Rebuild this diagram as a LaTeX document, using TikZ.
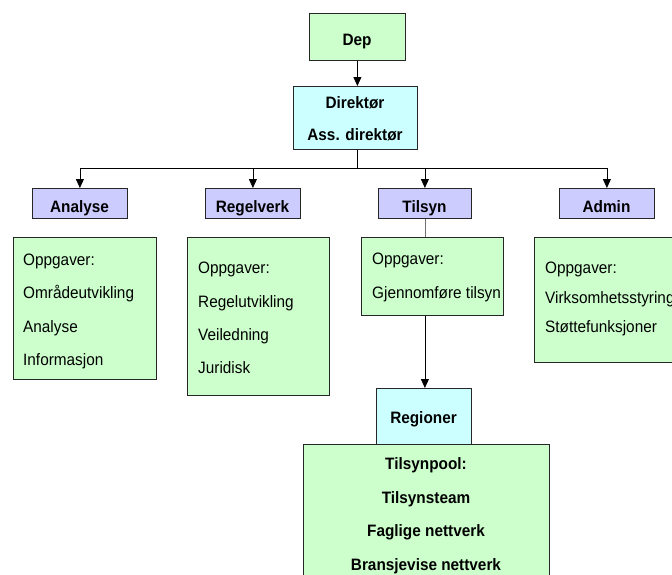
\documentclass[tikz,border=0pt]{standalone}
\usepackage{fontspec}
\setmainfont[FakeStretch=0.93]{Liberation Sans}
\usetikzlibrary{arrows.meta}
\definecolor{paleGreen}{HTML}{CCFFCC}
\definecolor{paleCyan}{HTML}{CCFFFF}
\definecolor{paleViolet}{HTML}{CCCCFF}
\begin{document}
\begin{tikzpicture}[x=1pt,y=-1pt,
  box/.style={draw=black!85, line width=0.8pt, rectangle, inner sep=0pt, anchor=north west},
  taskbox/.style={box, fill=paleGreen},
  leadbox/.style={box, fill=paleCyan},
  unitbox/.style={box, fill=paleViolet},
  plain/.style={inner sep=0pt, anchor=base west, font=\fontsize{16.5}{20}\selectfont},
  title/.style={inner sep=0pt, anchor=base, font=\bfseries\fontsize{16.5}{20}\selectfont},
  wire/.style={line width=0.8pt},
  link/.style={wire, -{Triangle[width=8pt,length=9pt]}}
]
\useasboundingbox (0,0) rectangle (672,574);
\clip (0,0) rectangle (672,574);

% top of the hierarchy
\node[taskbox, minimum width=96, minimum height=47] (dep) at (309,13) {};
\node[title] (depT) at (357,45) {Dep};
\node[leadbox, minimum width=124, minimum height=63] (dir) at (293,86) {};
\node[title] (dirT1) at (355,108) {Direktør};
\node[title] (dirT2) at (355,140) {Ass. direktør};

% department headers
\node[unitbox, minimum width=95, minimum height=30] (anaHead) at (32,188) {};
\node[unitbox, minimum width=95, minimum height=30] (regHead) at (205,188) {};
\node[unitbox, minimum width=93, minimum height=30] (tilHead) at (378,188) {};
\node[unitbox, minimum width=95, minimum height=30] (admHead) at (559,188) {};
\node[title] (anaT) at (79.5,212) {Analyse};
\node[title] (regT) at (252.5,212) {Regelverk};
\node[title] (tilT) at (424.5,212) {Tilsyn};
\node[title] (admT) at (606.5,212) {Admin};

% task boxes
\node[taskbox, minimum width=143, minimum height=142] (anaBox) at (13,237) {};
\node[plain] (ana1) at (23,265) {Oppgaver:};
\node[plain] (ana2) at (23,298) {Områdeutvikling};
\node[plain] (ana3) at (23,332) {Analyse};
\node[plain] (ana4) at (23,365) {Informasjon};

\node[taskbox, minimum width=142, minimum height=158] (regBox) at (187,237) {};
\node[plain] (reg1) at (198,273) {Oppgaver:};
\node[plain] (reg2) at (198,307) {Regelutvikling};
\node[plain] (reg3) at (198,340) {Veiledning};
\node[plain] (reg4) at (198,373) {Juridisk};

\node[taskbox, minimum width=142, minimum height=78] (tilBox) at (361,237) {};
\node[plain] (til1) at (372,264) {Oppgaver:};
\node[plain] (til2) at (372,298) {Gjennomføre tilsyn};

\node[taskbox, minimum width=160, minimum height=125] (admBox) at (534,237) {};
\node[plain] (adm1) at (545,273) {Oppgaver:};
\node[plain] (adm2) at (545,303) {Virksomhetsstyring};
\node[plain] (adm3) at (545,332) {Støttefunksjoner};

% regional level
\node[leadbox, minimum width=95, minimum height=56] (reg) at (376,388) {};
\node[title] (regionT) at (423.5,423) {Regioner};
\node[taskbox, minimum width=246, minimum height=160] (pool) at (303,444) {};
\node[title] (pool1) at (426,469) {Tilsynpool:};
\node[title] (pool2) at (426,503) {Tilsynsteam};
\node[title] (pool3) at (426,536) {Faglige nettverk};
\node[title] (pool4) at (426,570) {Bransjevise nettverk};

% connectors
\draw[link] (dep.south) -- (dep.south |- dir.north);
\coordinate (bus) at (357,168);
\draw[wire] (bus |- dir.south) -- (bus);
\draw[wire] (bus -| anaHead.north) -- (bus -| admHead.north);
\draw[link] (bus -| anaHead.north) -- (anaHead.north);
\draw[link] (bus -| regHead.north) -- (regHead.north);
\draw[link] (bus -| tilHead.north) -- (tilHead.north);
\draw[link] (bus -| admHead.north) -- (admHead.north);
\draw[wire, black!55] (tilHead.south) -- (tilHead.south |- tilBox.north);
\draw[link] (tilHead.south |- tilBox.south) -- (tilHead.south |- reg.north);
\end{tikzpicture}
\end{document}
